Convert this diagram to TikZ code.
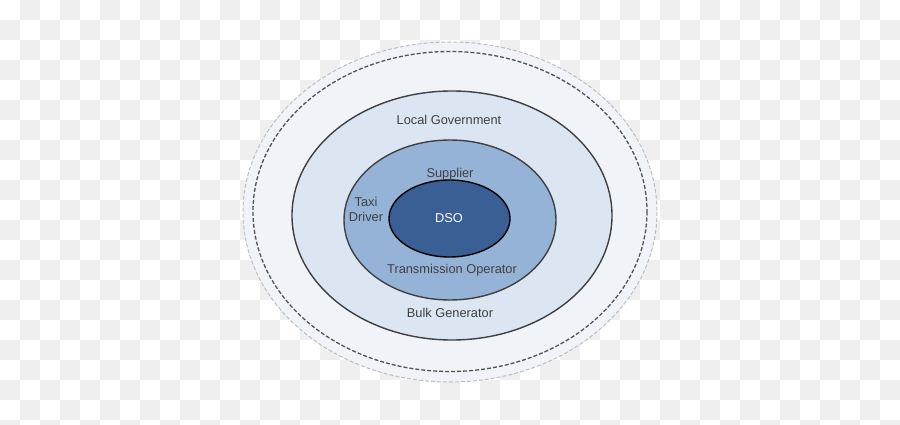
\documentclass[tikz,border=0pt]{standalone}
\usepackage{fontspec}
\setmainfont{Liberation Sans}
\usetikzlibrary{calc}
\definecolor{chk}{HTML}{EFEFEF}
\definecolor{ringA}{HTML}{F0F3F8}
\definecolor{ringB}{HTML}{DCE6F2}
\definecolor{ringC}{HTML}{95B3D7}
\definecolor{ringD}{HTML}{3A5F94}
\definecolor{edge}{HTML}{404040}
\begin{document}
\begin{tikzpicture}[x=1pt,y=-1pt,font=\fontsize{12.8}{15}\selectfont]
\useasboundingbox (0,0) rectangle (900,425);
\foreach \x in {0,40,...,880} \foreach \y in {0,40,...,400} {
  \fill[chk] (\x+20,\y) rectangle ++(20,20);
  \fill[chk] (\x,\y+20) rectangle ++(20,20);
}
\coordinate (O) at (450,212);
\fill[ringA] (O) ellipse [x radius=207, y radius=170];
\draw[black!25,line width=1pt,dash pattern=on 4pt off 2pt] (O) ellipse [x radius=207, y radius=170];
\draw[edge!90,line width=1.3pt,dash pattern=on 4pt off 2pt] (450,211.5) ellipse [x radius=197, y radius=160];
\draw[edge,fill=ringB,line width=1.4pt] (452,215.5) ellipse [x radius=160, y radius=124.5];
\draw[edge,fill=ringC,line width=1.4pt] (450,220) ellipse [x radius=106, y radius=80];
\draw[black,fill=ringD,line width=1.4pt] (449.5,218.5) ellipse [x radius=60.5, y radius=38.5];
\node[text=edge] (gov) at (449,120) {Local Government};
\node[text=edge] (sup) at (450,174) {Supplier};
\node[text=edge,align=center] (taxi) at (366,209) {Taxi\\Driver};
\node[text=white] (dso) at (449,218) {DSO};
\node[text=edge] (trans) at (452,270) {Transmission Operator};
\node[text=edge] (bulk) at (450,313) {Bulk Generator};
\end{tikzpicture}
\end{document}
